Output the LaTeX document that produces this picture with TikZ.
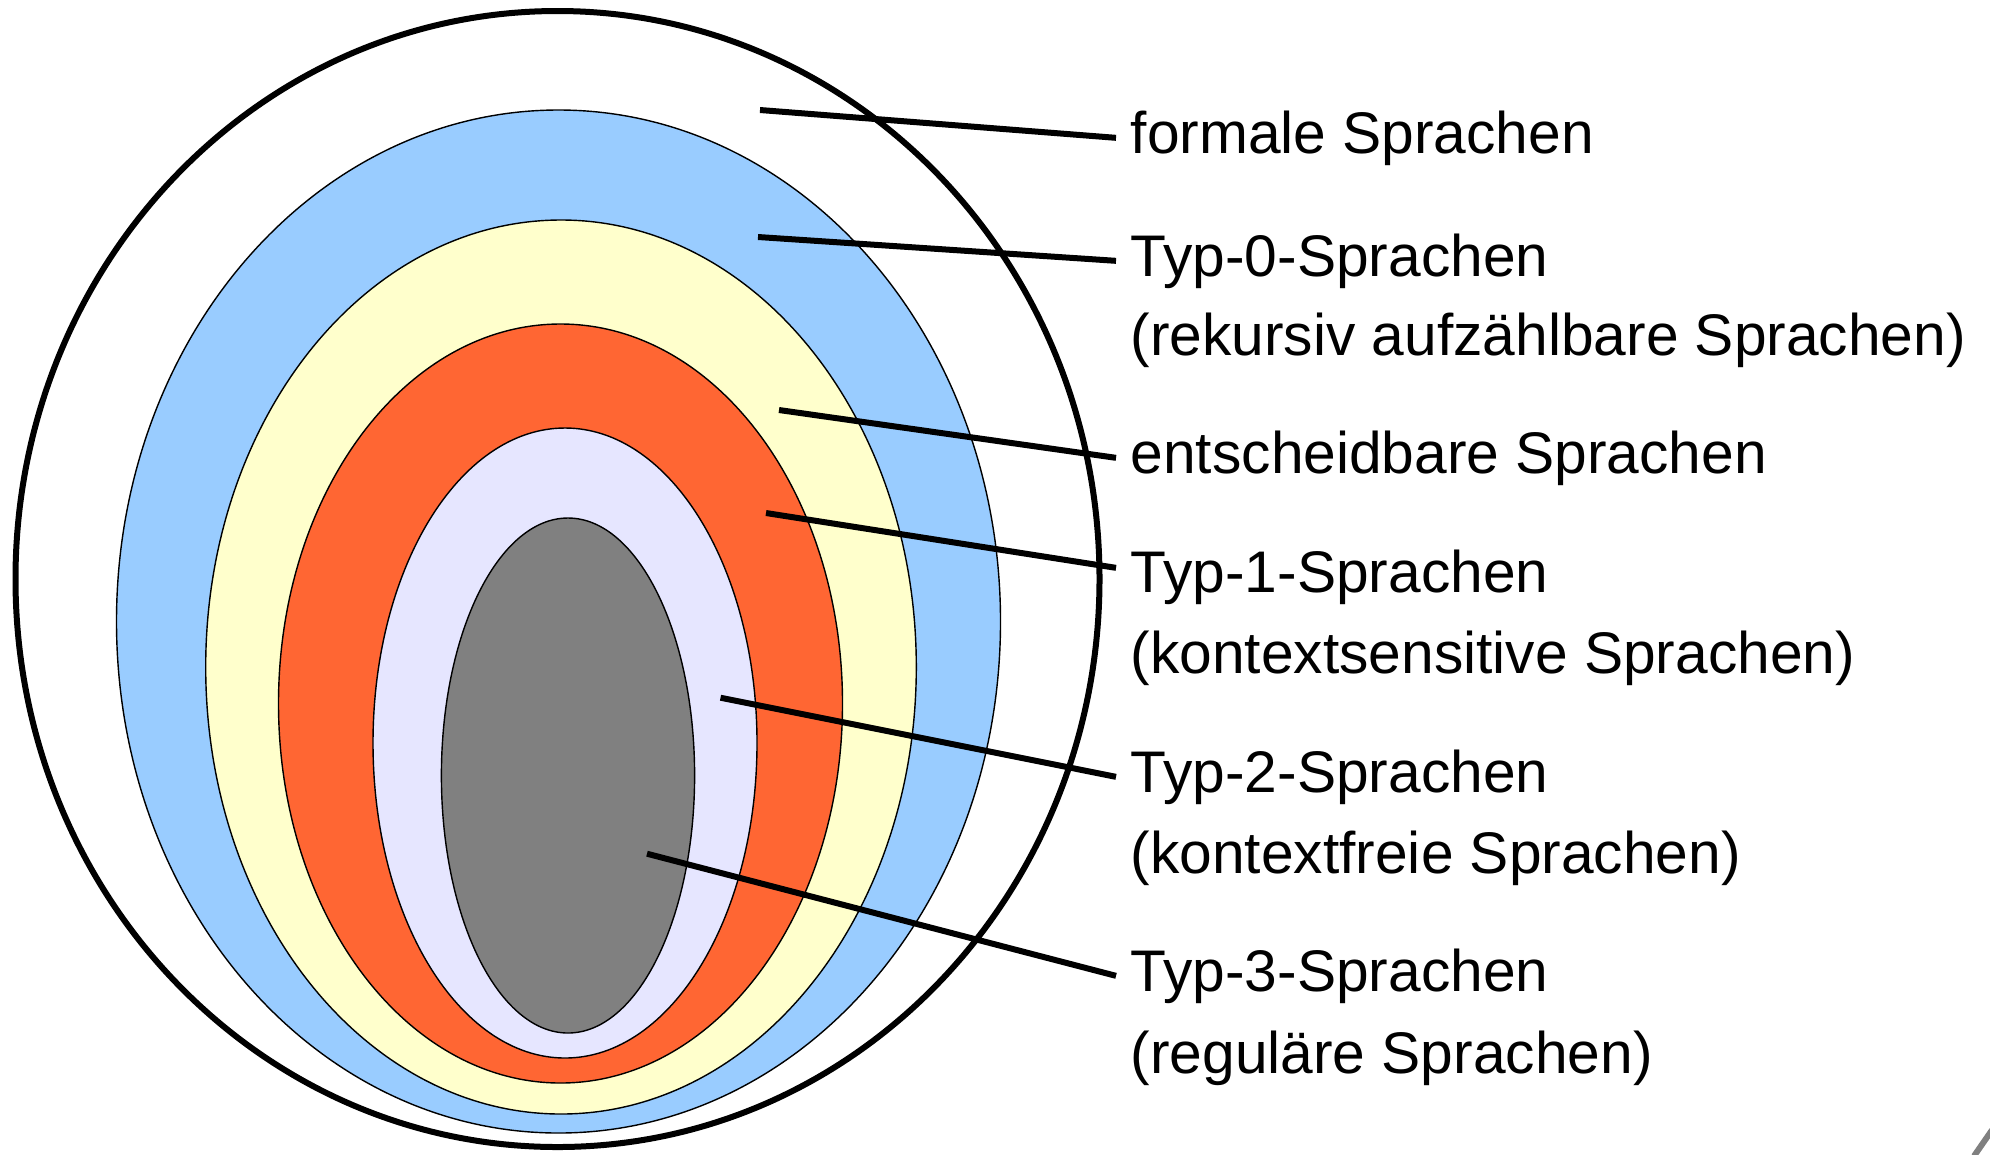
\documentclass[tikz,border=0pt]{standalone}
\usepackage{fontspec}
\setmainfont{Liberation Sans}
\definecolor{typnull}{HTML}{99CCFF}
\definecolor{entsch}{HTML}{FFFFCC}
\definecolor{typeins}{HTML}{FF6633}
\definecolor{typzwei}{HTML}{E6E6FF}
\definecolor{typdrei}{HTML}{808080}
\begin{document}
\begin{tikzpicture}[
        lang/.style={draw=black, line width=0.4pt},
        leader/.style={line width=0.06cm},
        lbl/.style={anchor=base west, inner xsep=0.14cm, inner ysep=0pt, font=\fontsize{16.7}{23}\selectfont}]
    \useasboundingbox (0,0) rectangle (19.90,-11.54);
    % Mengen
    \draw[line width=0.06cm] (5.575,-5.79) ellipse (5.42 and 5.68);
    \draw[lang, fill=typnull] (5.585,-6.215) ellipse (4.42 and 5.115);
    \draw[lang, fill=entsch] (5.61,-6.67) ellipse (3.553 and 4.47);
    \draw[lang, fill=typeins] (5.605,-7.035) ellipse (2.82 and 3.795);
    \draw[lang, fill=typzwei] (5.65,-7.43) ellipse (1.92 and 3.15);
    \draw[lang, fill=typdrei] (5.68,-7.755) ellipse (1.266 and 2.575);
    \coordinate (pformal) at (7.60,-1.10);
    \coordinate (pnull) at (7.58,-2.37);
    \coordinate (pentsch) at (7.79,-4.10);
    \coordinate (peins) at (7.66,-5.13);
    \coordinate (pzwei) at (7.205,-6.977);
    \coordinate (pdrei) at (6.47,-8.537);
    % Beschriftung
    \node[lbl] (formal) at (11.16,-1.53) {formale Sprachen};
    \node[lbl] (null) at (11.16,-2.76) {Typ-0-Sprachen};
    \node[lbl] (nullb) at (11.16,-3.55) {(rekursiv aufzählbare Sprachen)};
    \node[lbl] (entsch) at (11.16,-4.73) {entscheidbare Sprachen};
    \node[lbl] (eins) at (11.16,-5.92) {Typ-1-Sprachen};
    \node[lbl] (einsb) at (11.16,-6.73) {(kontextsensitive Sprachen)};
    \node[lbl] (zwei) at (11.16,-7.92) {Typ-2-Sprachen};
    \node[lbl] (zweib) at (11.16,-8.73) {(kontextfreie Sprachen)};
    \node[lbl] (drei) at (11.16,-9.91) {Typ-3-Sprachen};
    \node[lbl] (dreib) at (11.16,-10.73) {(reguläre Sprachen)};
    \draw[leader] (pformal) -- (formal.west);
    \draw[leader] (pnull) -- (null.west);
    \draw[leader] (pentsch) -- (entsch.west);
    \draw[leader] (peins) -- ([yshift=0.09cm]eins.west);
    \draw[leader] (pzwei) -- (zwei.west);
    \draw[leader] (pdrei) -- (drei.west);
    \draw[line width=0.06cm, typdrei] (19.74,-11.56) -- (19.92,-11.30);
\end{tikzpicture}
\end{document}
